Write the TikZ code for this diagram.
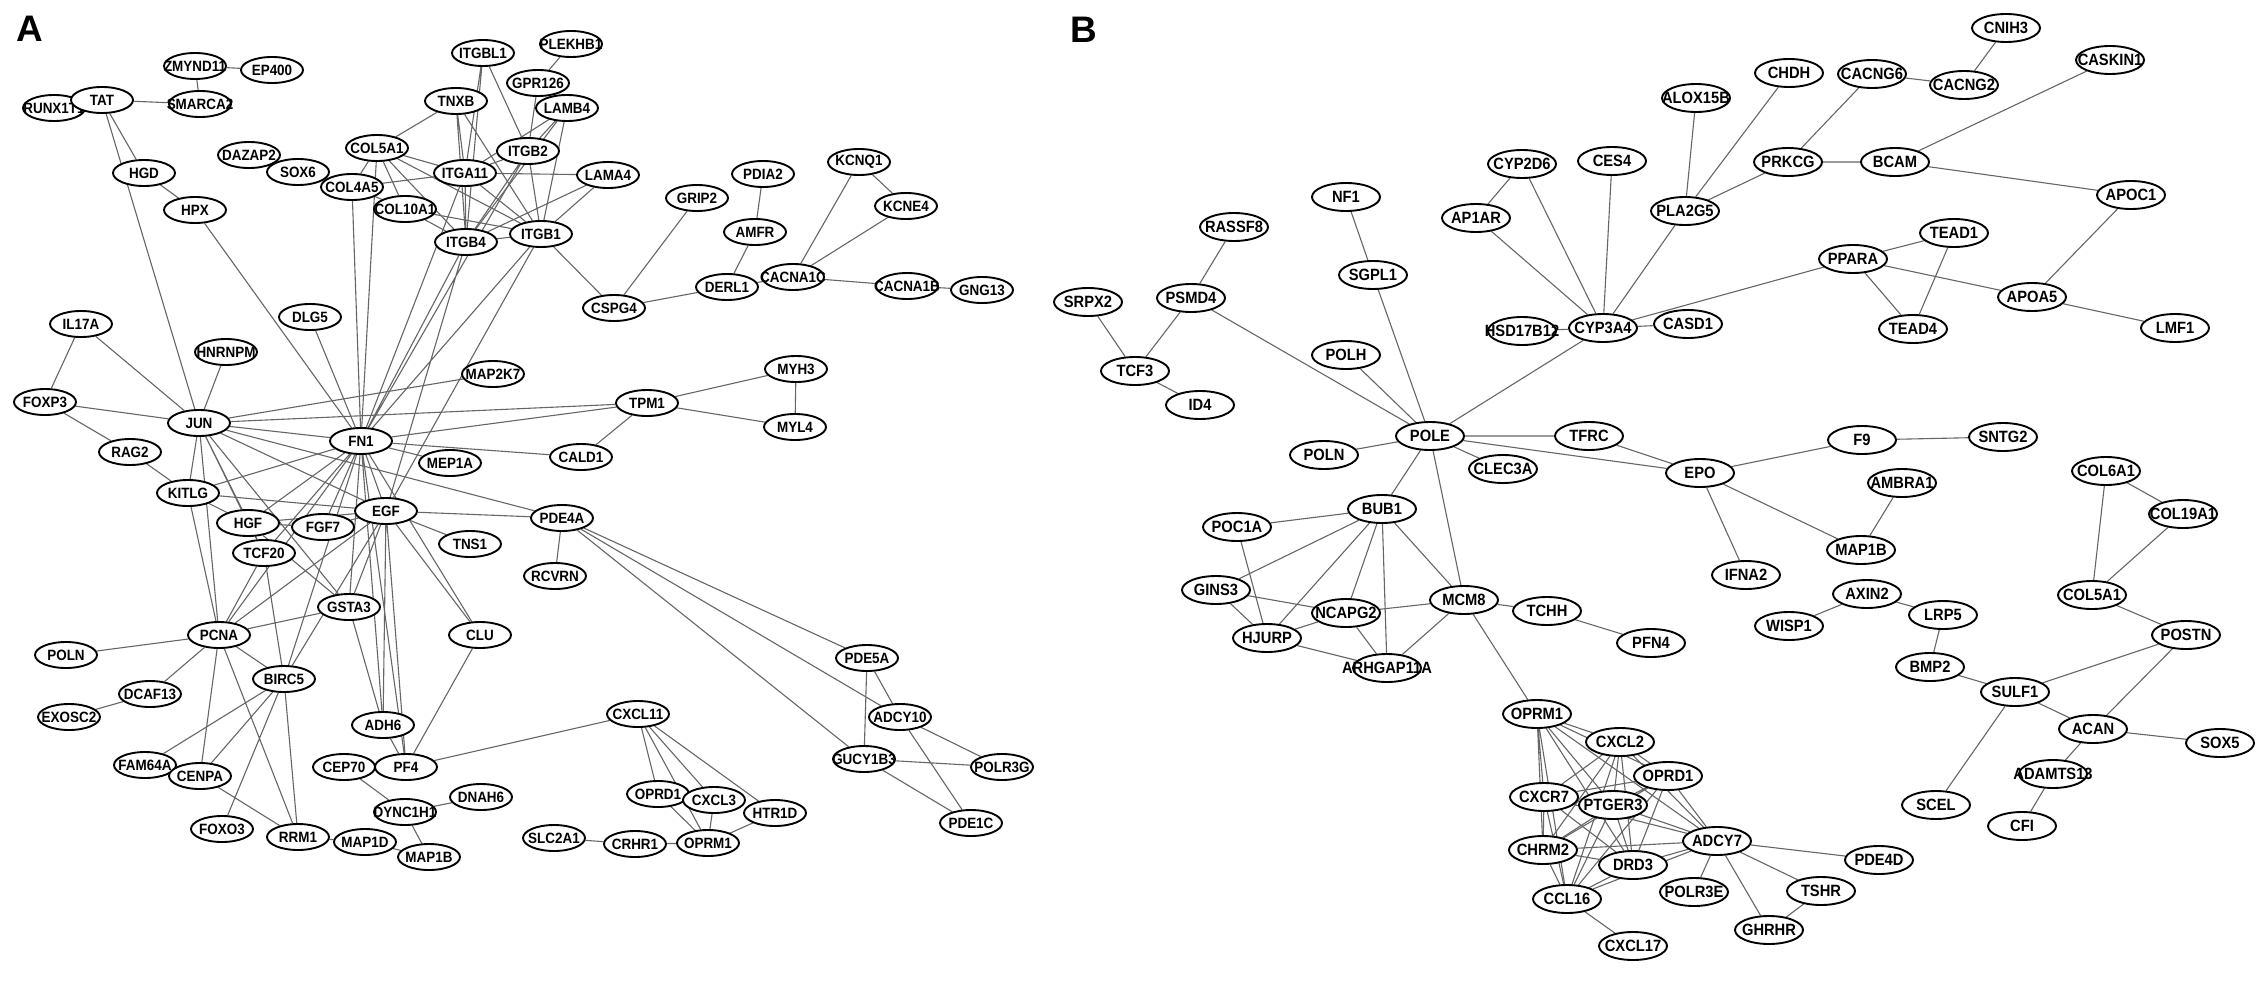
\documentclass[tikz,border=0pt]{standalone}
\usepackage{fontspec}
\setmainfont{Liberation Sans}
\newfontfamily\genefam[FakeStretch=0.9]{Liberation Sans}
\usetikzlibrary{shapes.geometric,backgrounds}

\begin{document}
\begin{tikzpicture}[
  x=0.2mm, y=-0.2mm,
  gene/.style={ellipse,draw=black,line width=0.38mm,fill=white,
    minimum width=12.4mm,minimum height=5.2mm,inner sep=0pt,
    font=\genefam\bfseries\fontsize{8.5}{8.5}\selectfont,
    execute at begin node={\hbox to 0pt\bgroup\hss},
    execute at end node={\hss\egroup}},
  geneb/.style={gene,minimum width=13.6mm,minimum height=5.6mm,
    font=\genefam\bfseries\fontsize{9.3}{9.3}\selectfont},
  link/.style={draw=black!60,line width=0.22mm},
  panel/.style={font=\bfseries\fontsize{21}{21}\selectfont,inner sep=0pt}
]
\useasboundingbox (0,0) rectangle (2268,980);

\node[panel] (lab-a) at (30,29) {A};
\node[panel] (lab-b) at (1084,30) {B};

% panel A
\node[gene] (a-zmynd11) at (195,66) {ZMYND11};
\node[gene] (a-ep400) at (272,70) {EP400};
\node[gene] (a-runx1t1) at (54,108) {RUNX1T1};
\node[gene] (a-tat) at (102,100) {TAT};
\node[gene] (a-smarca2) at (200,104) {SMARCA2};
\node[gene] (a-hgd) at (144,173) {HGD};
\node[gene] (a-hpx) at (195,210) {HPX};
\node[gene] (a-dazap2) at (249,155) {DAZAP2};
\node[gene] (a-sox6) at (298,172) {SOX6};
\node[gene] (a-col5a1) at (377,148) {COL5A1};
\node[gene] (a-col4a5) at (352,187) {COL4A5};
\node[gene] (a-col10a1) at (405,209) {COL10A1};
\node[gene] (a-tnxb) at (456,101) {TNXB};
\node[gene] (a-itgbl1) at (483,53) {ITGBL1};
\node[gene] (a-plekhb1) at (571,44) {PLEKHB1};
\node[gene] (a-gpr126) at (538,83) {GPR126};
\node[gene] (a-lamb4) at (567,108) {LAMB4};
\node[gene] (a-itgb2) at (528,151) {ITGB2};
\node[gene] (a-itga11) at (465,173) {ITGA11};
\node[gene] (a-lama4) at (608,175) {LAMA4};
\node[gene] (a-itgb4) at (466,242) {ITGB4};
\node[gene] (a-itgb1) at (541,234) {ITGB1};
\node[gene] (a-grip2) at (697,198) {GRIP2};
\node[gene] (a-pdia2) at (763,174) {PDIA2};
\node[gene] (a-amfr) at (755,232) {AMFR};
\node[gene] (a-kcnq1) at (859,162) {KCNQ1};
\node[gene] (a-kcne4) at (906,206) {KCNE4};
\node[gene] (a-derl1) at (727,287) {DERL1};
\node[gene] (a-cacna1c) at (793,277) {CACNA1C};
\node[gene] (a-cacna1b) at (907,286) {CACNA1B};
\node[gene] (a-gng13) at (982,290) {GNG13};
\node[gene] (a-cspg4) at (614,308) {CSPG4};
\node[gene] (a-dlg5) at (310,317) {DLG5};
\node[gene] (a-il17a) at (81,324) {IL17A};
\node[gene] (a-hnrnpm) at (226,352) {HNRNPM};
\node[gene] (a-map2k7) at (493,374) {MAP2K7};
\node[gene] (a-foxp3) at (45,402) {FOXP3};
\node[gene] (a-tpm1) at (647,403) {TPM1};
\node[gene] (a-jun) at (199,423) {JUN};
\node[gene] (a-fn1) at (361,441) {FN1};
\node[gene] (a-rag2) at (130,452) {RAG2};
\node[gene] (a-cald1) at (581,457) {CALD1};
\node[gene] (a-mep1a) at (450,463) {MEP1A};
\node[gene] (a-kitlg) at (188,493) {KITLG};
\node[gene] (a-egf) at (386,511) {EGF};
\node[gene] (a-pde4a) at (562,518) {PDE4A};
\node[gene] (a-hgf) at (248,523) {HGF};
\node[gene] (a-fgf7) at (323,527) {FGF7};
\node[gene] (a-tns1) at (470,544) {TNS1};
\node[gene] (a-tcf20) at (264,553) {TCF20};
\node[gene] (a-rcvrn) at (555,576) {RCVRN};
\node[gene] (a-gsta3) at (349,607) {GSTA3};
\node[gene] (a-pcna) at (219,635) {PCNA};
\node[gene] (a-clu) at (480,635) {CLU};
\node[gene] (a-poln) at (66,655) {POLN};
\node[gene] (a-birc5) at (284,679) {BIRC5};
\node[gene] (a-dcaf13) at (150,694) {DCAF13};
\node[gene] (a-exosc2) at (69,717) {EXOSC2};
\node[gene] (a-adh6) at (383,725) {ADH6};
\node[gene] (a-cxcl11) at (638,714) {CXCL11};
\node[gene] (a-fam64a) at (145,765) {FAM64A};
\node[gene] (a-cenpa) at (200,776) {CENPA};
\node[gene] (a-cep70) at (344,767) {CEP70};
\node[gene] (a-pf4) at (406,767) {PF4};
\node[gene] (a-dnah6) at (481,797) {DNAH6};
\node[gene] (a-dync1h1) at (405,812) {DYNC1H1};
\node[gene] (a-oprd1) at (658,794) {OPRD1};
\node[gene] (a-cxcl3) at (714,800) {CXCL3};
\node[gene] (a-foxo3) at (222,829) {FOXO3};
\node[gene] (a-rrm1) at (298,837) {RRM1};
\node[gene] (a-map1d) at (365,842) {MAP1D};
\node[gene] (a-map1b) at (429,857) {MAP1B};
\node[gene] (a-slc2a1) at (554,838) {SLC2A1};
\node[gene] (a-crhr1) at (635,844) {CRHR1};
\node[gene] (a-oprm1) at (708,843) {OPRM1};
\node[gene] (a-myh3) at (796,369) {MYH3};
\node[gene] (a-myl4) at (795,427) {MYL4};
\node[gene] (a-pde5a) at (867,658) {PDE5A};
\node[gene] (a-adcy10) at (900,717) {ADCY10};
\node[gene] (a-gucy1b3) at (864,759) {GUCY1B3};
\node[gene] (a-polr3g) at (1002,767) {POLR3G};
\node[gene] (a-htr1d) at (775,813) {HTR1D};
\node[gene] (a-pde1c) at (971,823) {PDE1C};

% panel B
\node[geneb] (b-srpx2) at (1088,302) {SRPX2};
\node[geneb] (b-rassf8) at (1234,227) {RASSF8};
\node[geneb] (b-psmd4) at (1191,298) {PSMD4};
\node[geneb] (b-tcf3) at (1135,371) {TCF3};
\node[geneb] (b-id4) at (1200,405) {ID4};
\node[geneb] (b-nf1) at (1346,197) {NF1};
\node[geneb] (b-sgpl1) at (1373,275) {SGPL1};
\node[geneb] (b-polh) at (1346,355) {POLH};
\node[geneb] (b-pole) at (1430,436) {POLE};
\node[geneb] (b-poln) at (1324,455) {POLN};
\node[geneb] (b-clec3a) at (1503,469) {CLEC3A};
\node[geneb] (b-tfrc) at (1589,436) {TFRC};
\node[geneb] (b-epo) at (1700,473) {EPO};
\node[geneb] (b-f9) at (1862,440) {F9};
\node[geneb] (b-sntg2) at (2003,437) {SNTG2};
\node[geneb] (b-ambra1) at (1902,483) {AMBRA1};
\node[geneb] (b-map1b) at (1861,550) {MAP1B};
\node[geneb] (b-ifna2) at (1746,575) {IFNA2};
\node[geneb] (b-bub1) at (1382,509) {BUB1};
\node[geneb] (b-poc1a) at (1237,527) {POC1A};
\node[geneb] (b-gins3) at (1216,590) {GINS3};
\node[geneb] (b-ncapg2) at (1346,613) {NCAPG2};
\node[geneb] (b-hjurp) at (1267,638) {HJURP};
\node[geneb] (b-arhgap11a) at (1387,668) {ARHGAP11A};
\node[geneb] (b-mcm8) at (1464,600) {MCM8};
\node[geneb] (b-tchh) at (1547,611) {TCHH};
\node[geneb] (b-pfn4) at (1651,643) {PFN4};
\node[geneb] (b-oprm1) at (1537,714) {OPRM1};
\node[geneb] (b-cxcl2) at (1620,742) {CXCL2};
\node[geneb] (b-oprd1) at (1668,776) {OPRD1};
\node[geneb] (b-cxcr7) at (1544,797) {CXCR7};
\node[geneb] (b-ptger3) at (1613,805) {PTGER3};
\node[geneb] (b-chrm2) at (1543,850) {CHRM2};
\node[geneb] (b-drd3) at (1633,865) {DRD3};
\node[geneb] (b-ccl16) at (1567,899) {CCL16};
\node[geneb] (b-cxcl17) at (1633,946) {CXCL17};
\node[geneb] (b-adcy7) at (1717,841) {ADCY7};
\node[geneb] (b-polr3e) at (1694,892) {POLR3E};
\node[geneb] (b-pde4d) at (1879,860) {PDE4D};
\node[geneb] (b-tshr) at (1821,891) {TSHR};
\node[geneb] (b-ghrhr) at (1769,930) {GHRHR};
\node[geneb] (b-cyp2d6) at (1522,164) {CYP2D6};
\node[geneb] (b-ap1ar) at (1476,218) {AP1AR};
\node[geneb] (b-ces4) at (1612,161) {CES4};
\node[geneb] (b-hsd17b12) at (1522,331) {HSD17B12};
\node[geneb] (b-cyp3a4) at (1603,328) {CYP3A4};
\node[geneb] (b-casd1) at (1688,324) {CASD1};
\node[geneb] (b-alox15b) at (1696,98) {ALOX15B};
\node[geneb] (b-chdh) at (1789,73) {CHDH};
\node[geneb] (b-cacng6) at (1872,74) {CACNG6};
\node[geneb] (b-cacng2) at (1964,85) {CACNG2};
\node[geneb] (b-cnih3) at (2006,28) {CNIH3};
\node[geneb] (b-caskin1) at (2110,60) {CASKIN1};
\node[geneb] (b-prkcg) at (1788,162) {PRKCG};
\node[geneb] (b-bcam) at (1895,162) {BCAM};
\node[geneb] (b-pla2g5) at (1685,211) {PLA2G5};
\node[geneb] (b-apoc1) at (2131,195) {APOC1};
\node[geneb] (b-ppara) at (1853,259) {PPARA};
\node[geneb] (b-tead1) at (1954,233) {TEAD1};
\node[geneb] (b-tead4) at (1913,329) {TEAD4};
\node[geneb] (b-apoa5) at (2032,297) {APOA5};
\node[geneb] (b-lmf1) at (2175,328) {LMF1};
\node[geneb] (b-axin2) at (1867,594) {AXIN2};
\node[geneb] (b-wisp1) at (1789,626) {WISP1};
\node[geneb] (b-lrp5) at (1943,615) {LRP5};
\node[geneb] (b-bmp2) at (1930,667) {BMP2};
\node[geneb] (b-sulf1) at (2015,692) {SULF1};
\node[geneb] (b-scel) at (1936,805) {SCEL};
\node[geneb] (b-acan) at (2093,729) {ACAN};
\node[geneb] (b-adamts13) at (2053,774) {ADAMTS13};
\node[geneb] (b-cfi) at (2022,826) {CFI};
\node[geneb] (b-sox5) at (2220,743) {SOX5};
\node[geneb] (b-postn) at (2186,635) {POSTN};
\node[geneb] (b-col5a1) at (2092,595) {COL5A1};
\node[geneb] (b-col6a1) at (2106,471) {COL6A1};
\node[geneb] (b-col19a1) at (2183,514) {COL19A1};

\begin{scope}[on background layer]
\fill[white] (0,0) rectangle (2268,980);
% panel A links
\draw[link] (a-zmynd11) -- (a-ep400) (a-zmynd11) -- (a-smarca2) (a-tat) -- (a-smarca2)
  (a-runx1t1) -- (a-tat) (a-tat) -- (a-hgd) (a-tat) -- (a-jun) (a-hgd) -- (a-hpx) (a-hpx) -- (a-fn1);
\draw[link] (a-dazap2) -- (a-sox6) (a-sox6) -- (a-col4a5);
\draw[link] (a-col5a1) -- (a-col4a5) (a-col5a1) -- (a-tnxb) (a-col5a1) -- (a-col10a1)
  (a-col5a1) -- (a-itga11) (a-col5a1) -- (a-itgb1) (a-col5a1) -- (a-itgb4) (a-col5a1) -- (a-fn1);
\draw[link] (a-col4a5) -- (a-fn1) (a-col4a5) -- (a-itga11) (a-col4a5) -- (a-col10a1)
  (a-col10a1) -- (a-itgb4) (a-col10a1) -- (a-itgb1);
\draw[link] (a-tnxb) -- (a-itga11) (a-tnxb) -- (a-itgb4) (a-tnxb) -- (a-itgb1)
  (a-itgbl1) -- (a-itga11) (a-itgbl1) -- (a-itgb4) (a-itgbl1) -- (a-itgb2)
  (a-plekhb1) -- (a-gpr126) (a-gpr126) -- (a-itgb2);
\draw[link] (a-lamb4) -- (a-itgb2) (a-lamb4) -- (a-itga11) (a-lamb4) -- (a-itgb1) (a-lamb4) -- (a-itgb4);
\draw[link] (a-itga11) -- (a-itgb2) (a-itga11) -- (a-lama4) (a-itga11) -- (a-itgb1)
  (a-itga11) -- (a-itgb4) (a-itga11) -- (a-fn1);
\draw[link] (a-itgb2) -- (a-itgb4) (a-itgb2) -- (a-itgb1) (a-itgb2) -- (a-fn1)
  (a-itgb4) -- (a-itgb1) (a-itgb4) -- (a-fn1) (a-itgb4) -- (a-egf)
  (a-itgb1) -- (a-fn1) (a-itgb1) -- (a-egf) (a-itgb1) -- (a-cspg4)
  (a-lama4) -- (a-itgb1) (a-lama4) -- (a-itgb4);
\draw[link] (a-cspg4) -- (a-grip2) (a-cspg4) -- (a-derl1) (a-derl1) -- (a-amfr) (a-amfr) -- (a-pdia2)
  (a-derl1) -- (a-cacna1c) (a-cacna1c) -- (a-kcnq1) (a-cacna1c) -- (a-kcne4) (a-kcnq1) -- (a-kcne4)
  (a-cacna1c) -- (a-cacna1b) (a-cacna1b) -- (a-gng13);
\draw[link] (a-dlg5) -- (a-fn1) (a-il17a) -- (a-foxp3) (a-il17a) -- (a-jun) (a-hnrnpm) -- (a-jun)
  (a-foxp3) -- (a-jun) (a-foxp3) -- (a-rag2) (a-rag2) -- (a-kitlg);
\draw[link] (a-jun) -- (a-map2k7) (a-jun) -- (a-tpm1) (a-jun) -- (a-fn1) (a-jun) -- (a-egf)
  (a-jun) -- (a-pde4a) (a-jun) -- (a-kitlg) (a-jun) -- (a-hgf) (a-jun) -- (a-tcf20)
  (a-jun) -- (a-pcna) (a-jun) -- (a-gsta3);
\draw[link] (a-kitlg) -- (a-fn1) (a-kitlg) -- (a-egf) (a-kitlg) -- (a-hgf) (a-kitlg) -- (a-pcna);
\draw[link] (a-fn1) -- (a-tpm1) (a-fn1) -- (a-cald1) (a-fn1) -- (a-mep1a) (a-fn1) -- (a-egf)
  (a-fn1) -- (a-hgf) (a-fn1) -- (a-fgf7) (a-fn1) -- (a-tcf20) (a-fn1) -- (a-pcna)
  (a-fn1) -- (a-gsta3) (a-fn1) -- (a-clu) (a-fn1) -- (a-adh6) (a-fn1) -- (a-pf4) (a-fn1) -- (a-birc5);
\draw[link] (a-egf) -- (a-pde4a) (a-egf) -- (a-tns1) (a-egf) -- (a-clu) (a-egf) -- (a-fgf7)
  (a-egf) -- (a-hgf) (a-egf) -- (a-pcna) (a-egf) -- (a-gsta3) (a-egf) -- (a-birc5)
  (a-egf) -- (a-adh6) (a-egf) -- (a-pf4);
\draw[link] (a-hgf) -- (a-fgf7) (a-hgf) -- (a-tcf20) (a-hgf) -- (a-gsta3) (a-tcf20) -- (a-pcna)
  (a-tcf20) -- (a-birc5) (a-gsta3) -- (a-pcna) (a-gsta3) -- (a-adh6);
\draw[link] (a-pcna) -- (a-poln) (a-pcna) -- (a-dcaf13) (a-pcna) -- (a-birc5) (a-pcna) -- (a-cenpa)
  (a-pcna) -- (a-rrm1) (a-dcaf13) -- (a-exosc2) (a-birc5) -- (a-fam64a) (a-birc5) -- (a-cenpa)
  (a-birc5) -- (a-foxo3) (a-birc5) -- (a-rrm1) (a-cenpa) -- (a-rrm1) (a-rrm1) -- (a-map1d)
  (a-map1d) -- (a-map1b);
\draw[link] (a-adh6) -- (a-pf4) (a-clu) -- (a-pf4) (a-cep70) -- (a-pf4) (a-pf4) -- (a-cxcl11)
  (a-cep70) -- (a-dync1h1) (a-dync1h1) -- (a-dnah6) (a-dync1h1) -- (a-map1b);
\draw[link] (a-cxcl11) -- (a-oprd1) (a-cxcl11) -- (a-cxcl3) (a-cxcl11) -- (a-oprm1) (a-cxcl11) -- (a-htr1d)
  (a-oprd1) -- (a-cxcl3) (a-oprd1) -- (a-oprm1) (a-cxcl3) -- (a-oprm1) (a-oprm1) -- (a-htr1d)
  (a-crhr1) -- (a-oprm1) (a-slc2a1) -- (a-crhr1);
\draw[link] (a-tpm1) -- (a-myh3) (a-tpm1) -- (a-myl4) (a-myh3) -- (a-myl4) (a-tpm1) -- (a-cald1);
\draw[link] (a-pde4a) -- (a-rcvrn) (a-pde4a) -- (a-pde5a) (a-pde4a) -- (a-adcy10) (a-pde4a) -- (a-gucy1b3)
  (a-pde5a) -- (a-adcy10) (a-pde5a) -- (a-gucy1b3) (a-adcy10) -- (a-polr3g) (a-adcy10) -- (a-pde1c)
  (a-gucy1b3) -- (a-polr3g) (a-gucy1b3) -- (a-pde1c);
% panel B links
\draw[link] (b-srpx2) -- (b-tcf3) (b-psmd4) -- (b-tcf3) (b-tcf3) -- (b-id4) (b-rassf8) -- (b-psmd4)
  (b-psmd4) -- (b-pole) (b-nf1) -- (b-sgpl1) (b-sgpl1) -- (b-pole) (b-polh) -- (b-pole);
\draw[link] (b-pole) -- (b-poln) (b-pole) -- (b-cyp3a4) (b-pole) -- (b-tfrc) (b-pole) -- (b-epo)
  (b-pole) -- (b-clec3a) (b-pole) -- (b-bub1) (b-pole) -- (b-mcm8) (b-tfrc) -- (b-epo);
\draw[link] (b-cyp3a4) -- (b-ap1ar) (b-cyp3a4) -- (b-cyp2d6) (b-cyp3a4) -- (b-ces4) (b-cyp3a4) -- (b-pla2g5)
  (b-cyp3a4) -- (b-hsd17b12) (b-cyp3a4) -- (b-casd1) (b-cyp3a4) -- (b-ppara) (b-ap1ar) -- (b-cyp2d6);
\draw[link] (b-pla2g5) -- (b-alox15b) (b-pla2g5) -- (b-chdh) (b-pla2g5) -- (b-prkcg) (b-prkcg) -- (b-cacng6)
  (b-prkcg) -- (b-bcam) (b-cacng6) -- (b-cacng2) (b-cacng2) -- (b-cnih3) (b-bcam) -- (b-caskin1)
  (b-bcam) -- (b-apoc1) (b-apoc1) -- (b-apoa5);
\draw[link] (b-ppara) -- (b-tead1) (b-ppara) -- (b-tead4) (b-tead1) -- (b-tead4) (b-ppara) -- (b-apoa5)
  (b-apoa5) -- (b-lmf1);
\draw[link] (b-epo) -- (b-f9) (b-f9) -- (b-sntg2) (b-epo) -- (b-ifna2) (b-epo) -- (b-map1b) (b-map1b) -- (b-ambra1);
\draw[link] (b-bub1) -- (b-poc1a) (b-bub1) -- (b-gins3) (b-bub1) -- (b-hjurp) (b-bub1) -- (b-ncapg2)
  (b-bub1) -- (b-arhgap11a) (b-bub1) -- (b-mcm8) (b-poc1a) -- (b-hjurp) (b-gins3) -- (b-hjurp)
  (b-gins3) -- (b-ncapg2) (b-ncapg2) -- (b-hjurp) (b-ncapg2) -- (b-mcm8) (b-ncapg2) -- (b-arhgap11a)
  (b-hjurp) -- (b-arhgap11a) (b-mcm8) -- (b-arhgap11a) (b-mcm8) -- (b-tchh) (b-tchh) -- (b-pfn4)
  (b-mcm8) -- (b-oprm1);
\draw[link] (b-axin2) -- (b-wisp1) (b-axin2) -- (b-lrp5) (b-lrp5) -- (b-bmp2) (b-bmp2) -- (b-sulf1)
  (b-sulf1) -- (b-postn) (b-sulf1) -- (b-acan) (b-sulf1) -- (b-scel) (b-acan) -- (b-postn)
  (b-acan) -- (b-sox5) (b-acan) -- (b-adamts13) (b-adamts13) -- (b-cfi) (b-col5a1) -- (b-postn)
  (b-col5a1) -- (b-col6a1) (b-col5a1) -- (b-col19a1) (b-col6a1) -- (b-col19a1);
\draw[link] (b-oprm1) -- (b-cxcl2) (b-oprm1) -- (b-oprd1) (b-oprm1) -- (b-cxcr7) (b-oprm1) -- (b-ptger3)
  (b-oprm1) -- (b-chrm2) (b-oprm1) -- (b-drd3) (b-oprm1) -- (b-ccl16) (b-oprm1) -- (b-adcy7);
\draw[link] (b-cxcl2) -- (b-oprd1) (b-cxcl2) -- (b-cxcr7) (b-cxcl2) -- (b-ptger3) (b-cxcl2) -- (b-chrm2)
  (b-cxcl2) -- (b-drd3) (b-cxcl2) -- (b-ccl16) (b-cxcl2) -- (b-adcy7);
\draw[link] (b-oprd1) -- (b-cxcr7) (b-oprd1) -- (b-ptger3) (b-oprd1) -- (b-chrm2) (b-oprd1) -- (b-drd3)
  (b-oprd1) -- (b-ccl16) (b-oprd1) -- (b-adcy7);
\draw[link] (b-cxcr7) -- (b-ptger3) (b-cxcr7) -- (b-chrm2) (b-cxcr7) -- (b-drd3) (b-cxcr7) -- (b-ccl16)
  (b-cxcr7) -- (b-adcy7) (b-ptger3) -- (b-chrm2) (b-ptger3) -- (b-drd3) (b-ptger3) -- (b-ccl16)
  (b-ptger3) -- (b-adcy7);
\draw[link] (b-chrm2) -- (b-drd3) (b-chrm2) -- (b-ccl16) (b-chrm2) -- (b-adcy7) (b-drd3) -- (b-ccl16)
  (b-drd3) -- (b-adcy7) (b-ccl16) -- (b-adcy7) (b-ccl16) -- (b-cxcl17);
\draw[link] (b-adcy7) -- (b-polr3e) (b-adcy7) -- (b-ghrhr) (b-adcy7) -- (b-tshr) (b-adcy7) -- (b-pde4d)
  (b-tshr) -- (b-ghrhr);
\end{scope}
\end{tikzpicture}
\end{document}
